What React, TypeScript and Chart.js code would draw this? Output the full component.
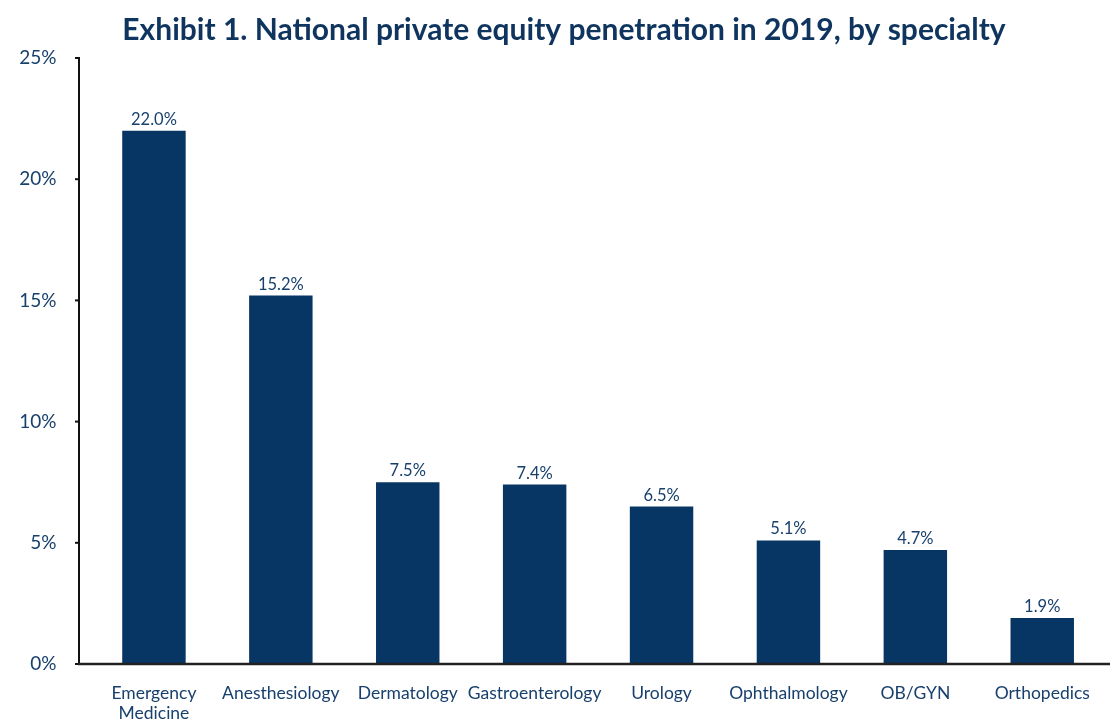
import React, { useEffect, useRef } from "react";
import { Chart, registerables } from "chart.js";

Chart.register(...registerables);

const categories: (string | string[])[] = [
  ["Emergency", "Medicine"],
  "Anesthesiology",
  "Dermatology",
  "Gastroenterology",
  "Urology",
  "Ophthalmology",
  "OB/GYN",
  "Orthopedics",
];
const penetration: number[] = [22.0, 15.2, 7.5, 7.4, 6.5, 5.1, 4.7, 1.9];
const yTicks: number[] = [0, 5, 10, 15, 20, 25];
const titleText = "Exhibit 1. National private equity penetration in 2019, by specialty";

const NAVY = "#073664";
const TEXT = "#17406d";
const FONT = "Lato, 'Noto Sans', sans-serif";

const decorPlugin = {
  id: "decor",
  afterDraw(chart: any) {
    const ctx = chart.ctx;
    const area = chart.chartArea;
    const y = chart.scales.y;
    const axisX = area.left - 11.5;
    const yTop = y.getPixelForValue(yTicks[yTicks.length - 1]);
    const yBot = y.getPixelForValue(0);
    ctx.save();
    ctx.strokeStyle = "#111111";
    ctx.lineWidth = 2;
    ctx.beginPath();
    ctx.moveTo(axisX, yTop);
    ctx.lineTo(axisX, yBot);
    ctx.stroke();
    yTicks.forEach((t) => {
      const py = y.getPixelForValue(t);
      ctx.beginPath();
      ctx.moveTo(axisX - 4, py);
      ctx.lineTo(axisX + 1, py);
      ctx.stroke();
    });
    ctx.strokeStyle = "#222222";
    ctx.lineWidth = 2.5;
    ctx.beginPath();
    ctx.moveTo(axisX - 1, yBot);
    ctx.lineTo(chart.width, yBot);
    ctx.stroke();

    // data labels
    const meta = chart.getDatasetMeta(0);
    ctx.fillStyle = TEXT;
    ctx.font = `16.5px ${FONT}`;
    ctx.textAlign = "center";
    ctx.textBaseline = "bottom";
    meta.data.forEach((bar: any, i: number) => {
      ctx.fillText(penetration[i].toFixed(1) + "%", bar.x, bar.y - 3);
    });

    // title
    ctx.fillStyle = "#0f355f";
    ctx.font = `bold 30px ${FONT}`;
    ctx.textBaseline = "middle";
    ctx.fillText(titleText, 564, 30);
    ctx.restore();
  },
};

export default function App() {
  const ref = useRef<HTMLCanvasElement>(null);
  useEffect(() => {
    document.body.style.margin = "0";
    if (!ref.current) return;
    const chart = new Chart(ref.current, {
      type: "bar",
      data: {
        labels: categories,
        datasets: [
          {
            data: penetration,
            backgroundColor: NAVY,
            categoryPercentage: 1,
            barPercentage: 0.5,
          },
        ],
      },
      options: {
        animation: false,
        responsive: false,
        maintainAspectRatio: false,
        layout: { padding: { top: 58, right: 3, left: 0, bottom: 0 } },
        plugins: {
          legend: { display: false },
          title: { display: false },
          tooltip: { enabled: false },
        },
        scales: {
          x: {
            grid: { display: false, drawTicks: false },
            border: { display: false },
            ticks: {
              color: TEXT,
              font: { family: FONT, size: 17.5, lineHeight: 1.1 },
              padding: 20,
              maxRotation: 0,
              autoSkip: false,
            },
            afterFit(scale: any) {
              scale.height = 57;
            },
          },
          y: {
            min: 0,
            max: 25,
            grid: { display: false, drawTicks: false },
            border: { display: false },
            ticks: {
              stepSize: 5,
              color: TEXT,
              font: { family: FONT, size: 19 },
              padding: 34,
              callback: (v: any) => v + "%",
            },
            afterFit(scale: any) {
              scale.width = 90.5;
            },
          },
        },
      },
      plugins: [decorPlugin],
    });
    return () => chart.destroy();
  }, []);
  return (
    <div style={{ width: 1110, height: 721 }}>
      <canvas ref={ref} width={1110} height={721} style={{ display: "block" }} />
    </div>
  );
}
